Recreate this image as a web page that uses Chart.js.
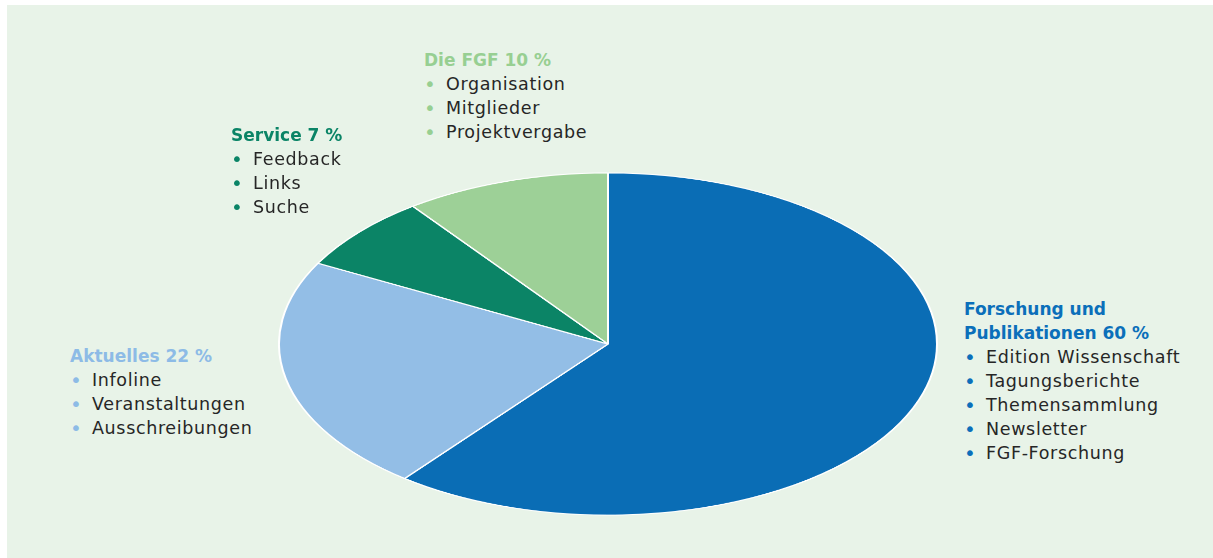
<!DOCTYPE html>
<html lang="de">
<head>
    <meta charset="UTF-8">
    <title>FGF Website-Struktur</title>
    <script src="https://cdn.jsdelivr.net/npm/chart.js"></script>
    <style>
        html, body { margin: 0; padding: 0; background: #fff; }
        #panel {
            position: absolute; left: 7px; top: 5px; width: 1206px; height: 553px;
            background: #e8f3e8; overflow: hidden;
        }
        #pieBox {
            position: absolute; left: 271px; top: 9px; width: 660px; height: 660px;
            transform: scaleY(0.52); transform-origin: 50% 50%;
        }
        .group {
            position: absolute; font-family: "DejaVu Sans", sans-serif;
            font-size: 17.5px; line-height: 24px; color: #262626; letter-spacing: 0.65px;
        }
        .group h3 { margin: 0; font-size: 17px; font-weight: bold; line-height: 24px; letter-spacing: 0; }
        .group ul { margin: 0; padding: 0; list-style: none; }
        .group li { position: relative; padding-left: 22px; }
        .group li::before {
            content: "•"; position: absolute; left: 0px; top: 0; font-size: 20px;
            color: var(--b);
        }
    </style>
</head>
<body>
    <div id="panel">
        <div id="pieBox"><canvas id="myChart" width="660" height="660"></canvas></div>
        <div class="group" id="g0" style="left:957px; top:292px;"></div>
        <div class="group" id="g1" style="left:63px; top:339px;"></div>
        <div class="group" id="g2" style="left:224px; top:118px;"></div>
        <div class="group" id="g3" style="left:417px; top:43px;"></div>
    </div>

    <script>
        // Reihenfolge im Uhrzeigersinn ab 12 Uhr
        const categories = ['Forschung und Publikationen', 'Aktuelles', 'Service', 'Die FGF'];
        const shares = [60, 22, 7, 10];
        const headings = ['Forschung und<br>Publikationen 60 %', 'Aktuelles 22 %', 'Service 7 %', 'Die FGF 10 %'];
        const items = [
            ['Edition Wissenschaft', 'Tagungsberichte', 'Themensammlung', 'Newsletter', 'FGF-Forschung'],
            ['Infoline', 'Veranstaltungen', 'Ausschreibungen'],
            ['Feedback', 'Links', 'Suche'],
            ['Organisation', 'Mitglieder', 'Projektvergabe']
        ];
        const sliceColors = ['#0a6db5', '#93bee6', '#0b8466', '#9dd097'];
        const headColors = ['#0b6fba', '#8dbbe6', '#0a8466', '#97cf92'];

        // Beschriftungen
        categories.forEach(function(c, i) {
            const el = document.getElementById('g' + i);
            let html = '<h3 style="color:' + headColors[i] + '">' + headings[i] + '</h3><ul>';
            items[i].forEach(function(t) {
                html += '<li style="--b:' + headColors[i] + '">' + t + '</li>';
            });
            html += '</ul>';
            el.innerHTML = html;
        });

        const ctx = document.getElementById('myChart').getContext('2d');
        new Chart(ctx, {
            type: 'pie',
            data: {
                labels: categories,
                datasets: [{
                    data: shares,
                    backgroundColor: sliceColors,
                    borderColor: '#ffffff',
                    borderWidth: 2
                }]
            },
            options: {
                responsive: false,
                animation: false,
                layout: { padding: 0 },
                plugins: {
                    legend: { display: false },
                    tooltip: { enabled: false }
                }
            }
        });
    </script>
</body>
</html>
